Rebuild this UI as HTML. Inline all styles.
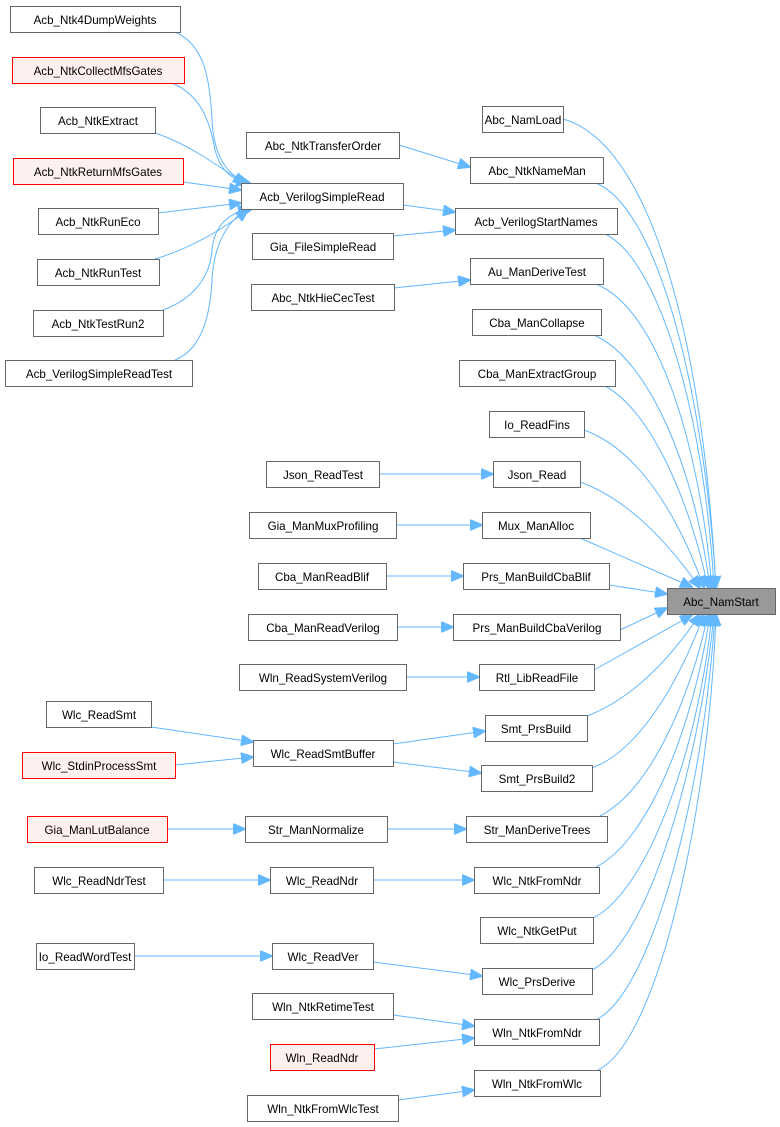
<!DOCTYPE html>
<html><head><meta charset="utf-8"><style>
html,body{margin:0;padding:0;background:#fff;}
svg{display:block;}
text{font-family:"Liberation Sans",Arial,sans-serif;font-size:11.6px;fill:#000;}
.n{fill:#fff;stroke:#666;stroke-width:1;}
.r{fill:#fff0f0;stroke:#f00;stroke-width:1;}
.g{fill:#999;stroke:#666;stroke-width:1;}
.e{fill:none;stroke:#63b8ff;stroke-width:1;marker-end:url(#a);}
</style></head><body>
<svg width="780" height="1127" viewBox="0 0 780 1127" xmlns="http://www.w3.org/2000/svg">
<defs><marker id="a" markerUnits="userSpaceOnUse" markerWidth="13" markerHeight="11" refX="12" refY="5.5" orient="auto"><path d="M0,0 L13,5.5 L0,11 z" fill="#63b8ff" stroke="#63b8ff"/></marker></defs>
<g>
<path class="e" d="M175,32 C205,45 210,80 212,120 C214,160 230,178 250,183"/>
<path class="e" d="M172,83 C200,95 210,120 215,150 C220,170 232,180 248,184"/>
<path class="e" d="M155,133 C185,143 210,160 245,184"/>
<path class="e" d="M183,182 L241,190"/>
<path class="e" d="M158,213 L241,203"/>
<path class="e" d="M155,259 C185,250 215,235 248,210"/>
<path class="e" d="M163,310 C190,300 210,280 212,250 C214,225 230,212 250,209"/>
<path class="e" d="M175,360 C200,350 210,320 212,280 C214,240 232,214 252,209"/>
<path class="e" d="M399,145 L470,167"/>
<path class="e" d="M403,205 L455,212"/>
<path class="e" d="M393,236 L455,230"/>
<path class="e" d="M394,288 L470,280"/>
<path class="e" d="M379,474 L493,474"/>
<path class="e" d="M396,525 L482,525"/>
<path class="e" d="M386,576 L463,576"/>
<path class="e" d="M397,627 L453,627"/>
<path class="e" d="M406,677 L479,677"/>
<path class="e" d="M151,727 L253,742"/>
<path class="e" d="M175,765 L253,757"/>
<path class="e" d="M393,744 L485,731"/>
<path class="e" d="M393,762 L481,773"/>
<path class="e" d="M167,829 L245,829"/>
<path class="e" d="M387,829 L466,829"/>
<path class="e" d="M163,880 L270,880"/>
<path class="e" d="M373,880 L474,880"/>
<path class="e" d="M134,956 L272,956"/>
<path class="e" d="M373,962 L482,976"/>
<path class="e" d="M393,1015 L474,1026"/>
<path class="e" d="M374,1049 L474,1038"/>
<path class="e" d="M398,1100 L474,1090"/>
<path class="e" d="M563,119 C640,140 700,300 716,588"/>
<path class="e" d="M596,183 C660,210 705,400 716,588"/>
<path class="e" d="M605,234 C660,260 705,420 714,588"/>
<path class="e" d="M596,284 C660,310 700,450 712,588"/>
<path class="e" d="M594,335 C650,360 695,470 710,588"/>
<path class="e" d="M605,386 C650,410 690,500 708,588"/>
<path class="e" d="M584,430 C640,450 680,520 704,588"/>
<path class="e" d="M580,482 C630,500 670,545 700,588"/>
<path class="e" d="M580,538 L692,587"/>
<path class="e" d="M609,585 L667,594"/>
<path class="e" d="M620,630 L667,608"/>
<path class="e" d="M594,670 L692,615"/>
<path class="e" d="M587,716 C630,700 670,660 700,614"/>
<path class="e" d="M592,768 C640,750 680,680 704,614"/>
<path class="e" d="M600,816 C650,790 690,700 708,614"/>
<path class="e" d="M596,867 C650,840 695,720 710,614"/>
<path class="e" d="M593,918 C650,890 700,740 712,614"/>
<path class="e" d="M592,970 C650,940 700,760 714,614"/>
<path class="e" d="M596,1020 C655,990 705,780 715,614"/>
<path class="e" d="M598,1070 C660,1040 710,800 716,614"/>
</g>
<g text-anchor="middle">
<rect class="n" x="10.5" y="6.5" width="170" height="26"/><text x="95" y="24">Acb_Ntk4DumpWeights</text>
<rect class="r" x="12.5" y="57.5" width="172" height="26"/><text x="98" y="75">Acb_NtkCollectMfsGates</text>
<rect class="n" x="40.5" y="107.5" width="115" height="26"/><text x="98" y="125">Acb_NtkExtract</text>
<rect class="r" x="13.5" y="158.5" width="170" height="26"/><text x="98" y="176">Acb_NtkReturnMfsGates</text>
<rect class="n" x="38.5" y="208.5" width="120" height="26"/><text x="98" y="226">Acb_NtkRunEco</text>
<rect class="n" x="37.5" y="259.5" width="122" height="26"/><text x="98" y="277">Acb_NtkRunTest</text>
<rect class="n" x="33.5" y="310.5" width="130" height="26"/><text x="98" y="328">Acb_NtkTestRun2</text>
<rect class="n" x="5.5" y="360.5" width="187" height="26"/><text x="99" y="378">Acb_VerilogSimpleReadTest</text>

<rect class="n" x="246.5" y="132.5" width="153" height="26"/><text x="323" y="150">Abc_NtkTransferOrder</text>
<rect class="n" x="241.5" y="183.5" width="162" height="26"/><text x="322" y="201">Acb_VerilogSimpleRead</text>
<rect class="n" x="252.5" y="233.5" width="141" height="26"/><text x="323" y="251">Gia_FileSimpleRead</text>
<rect class="n" x="251.5" y="284.5" width="143" height="26"/><text x="323" y="302">Abc_NtkHieCecTest</text>

<rect class="n" x="482.5" y="106.5" width="81" height="26"/><text x="523" y="124">Abc_NamLoad</text>
<rect class="n" x="470.5" y="157.5" width="133" height="26"/><text x="537" y="175">Abc_NtkNameMan</text>
<rect class="n" x="455.5" y="208.5" width="162" height="26"/><text x="536" y="226">Acb_VerilogStartNames</text>
<rect class="n" x="470.5" y="258.5" width="133" height="26"/><text x="537" y="276">Au_ManDeriveTest</text>
<rect class="n" x="472.5" y="309.5" width="129" height="26"/><text x="537" y="327">Cba_ManCollapse</text>
<rect class="n" x="459.5" y="360.5" width="156" height="26"/><text x="537" y="378">Cba_ManExtractGroup</text>
<rect class="n" x="489.5" y="411.5" width="95" height="26"/><text x="537" y="429">Io_ReadFins</text>
<rect class="n" x="493.5" y="461.5" width="87" height="26"/><text x="537" y="479">Json_Read</text>
<rect class="n" x="482.5" y="512.5" width="108" height="26"/><text x="536" y="530">Mux_ManAlloc</text>
<rect class="n" x="463.5" y="563.5" width="146" height="26"/><text x="536" y="581">Prs_ManBuildCbaBlif</text>
<rect class="n" x="453.5" y="614.5" width="167" height="26"/><text x="537" y="632">Prs_ManBuildCbaVerilog</text>
<rect class="n" x="479.5" y="664.5" width="115" height="26"/><text x="537" y="682">Rtl_LibReadFile</text>
<rect class="n" x="485.5" y="715.5" width="102" height="26"/><text x="536" y="733">Smt_PrsBuild</text>
<rect class="n" x="481.5" y="765.5" width="111" height="26"/><text x="537" y="783">Smt_PrsBuild2</text>
<rect class="n" x="466.5" y="816.5" width="141" height="26"/><text x="537" y="834">Str_ManDeriveTrees</text>
<rect class="n" x="474.5" y="867.5" width="125" height="26"/><text x="537" y="885">Wlc_NtkFromNdr</text>
<rect class="n" x="480.5" y="917.5" width="113" height="26"/><text x="537" y="935">Wlc_NtkGetPut</text>
<rect class="n" x="482.5" y="968.5" width="110" height="26"/><text x="537" y="986">Wlc_PrsDerive</text>
<rect class="n" x="474.5" y="1019.5" width="125" height="26"/><text x="537" y="1037">Wln_NtkFromNdr</text>
<rect class="n" x="474.5" y="1070.5" width="126" height="26"/><text x="537" y="1088">Wln_NtkFromWlc</text>

<rect class="g" x="667.5" y="588.5" width="108" height="26"/><text x="721" y="606">Abc_NamStart</text>

<rect class="n" x="266.5" y="461.5" width="113" height="26"/><text x="323" y="479">Json_ReadTest</text>
<rect class="n" x="249.5" y="512.5" width="147" height="26"/><text x="323" y="530">Gia_ManMuxProfiling</text>
<rect class="n" x="258.5" y="563.5" width="128" height="26"/><text x="322" y="581">Cba_ManReadBlif</text>
<rect class="n" x="248.5" y="614.5" width="149" height="26"/><text x="323" y="632">Cba_ManReadVerilog</text>
<rect class="n" x="239.5" y="664.5" width="167" height="26"/><text x="323" y="682">Wln_ReadSystemVerilog</text>
<rect class="n" x="253.5" y="740.5" width="140" height="26"/><text x="323" y="758">Wlc_ReadSmtBuffer</text>
<rect class="n" x="245.5" y="816.5" width="142" height="26"/><text x="316" y="834">Str_ManNormalize</text>
<rect class="n" x="270.5" y="867.5" width="103" height="26"/><text x="322" y="885">Wlc_ReadNdr</text>
<rect class="n" x="272.5" y="943.5" width="101" height="26"/><text x="323" y="961">Wlc_ReadVer</text>
<rect class="n" x="252.5" y="993.5" width="141" height="26"/><text x="323" y="1011">Wln_NtkRetimeTest</text>
<rect class="r" x="270.5" y="1044.5" width="104" height="26"/><text x="322" y="1062">Wln_ReadNdr</text>
<rect class="n" x="247.5" y="1095.5" width="151" height="26"/><text x="323" y="1113">Wln_NtkFromWlcTest</text>

<rect class="n" x="46.5" y="701.5" width="105" height="26"/><text x="99" y="719">Wlc_ReadSmt</text>
<rect class="r" x="22.5" y="752.5" width="153" height="26"/><text x="99" y="770">Wlc_StdinProcessSmt</text>
<rect class="r" x="27.5" y="816.5" width="140" height="26"/><text x="97" y="834">Gia_ManLutBalance</text>
<rect class="n" x="34.5" y="867.5" width="129" height="26"/><text x="99" y="885">Wlc_ReadNdrTest</text>
<rect class="n" x="36.5" y="943.5" width="98" height="26"/><text x="85" y="961">Io_ReadWordTest</text>
</g>
</svg>
</body></html>
